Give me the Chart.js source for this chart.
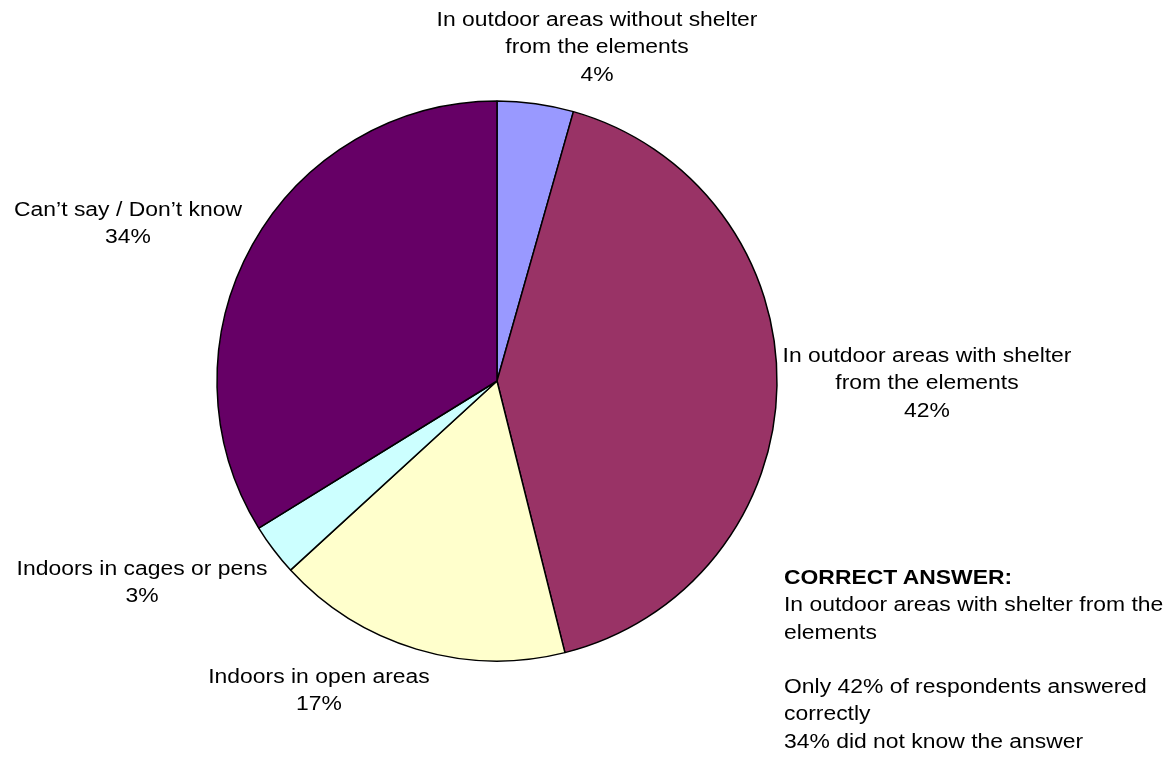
<!DOCTYPE html>
<html>
<head>
<meta charset="utf-8">
<script src="https://cdn.jsdelivr.net/npm/chart.js@4.4.1/dist/chart.umd.min.js"></script>
<style>
  html, body { margin:0; padding:0; background:#fff; }
  #wrap { position:relative; width:1176px; height:762px; }
  #note { position:absolute; left:784px; top:564px; font-family:"Liberation Sans", Arial, sans-serif; font-size:20px; line-height:27.3px; color:#000; white-space:nowrap; transform:scaleX(1.145); transform-origin:left top; }
  #note b { font-weight:bold; }
</style>
</head>
<body>
<div id="wrap">
  <canvas id="pie" width="1176" height="762"></canvas>
  <div id="note">
    <b>CORRECT ANSWER:</b><br>
    In outdoor areas with shelter from the<br>
    elements<br>
    <br>
    Only 42% of respondents answered<br>
    correctly<br>
    34% did not know the answer
  </div>
</div>
<script>
const categories = [
  ['In outdoor areas without shelter', 'from the elements'],
  ['In outdoor areas with shelter', 'from the elements'],
  ['Indoors in open areas'],
  ['Indoors in cages or pens'],
  ['Can\u2019t say / Don\u2019t know'],
];
const shares = [4.4, 41.7, 17.1, 3.0, 33.8];
const pctLabels = ['4%', '42%', '17%', '3%', '34%'];
const colors = ['#9999FF', '#993366', '#FFFFCC', '#CCFFFF', '#660066'];

// label block centres (x, y of first line), placed like the original
const labelPos = [[597, 20], [927, 356], [319, 677], [142, 569], [128, 210]];

const LINE_H = 27.5;
const STRETCH = 1.145; // original text is set a bit wider than Arial

const outsideLabels = {
  id: 'outsideLabels',
  afterDraw(chart){
    const ctx = chart.ctx;
    ctx.save();
    ctx.font = '20px "Liberation Sans", Arial, sans-serif';
    ctx.fillStyle = '#000';
    ctx.textAlign = 'center';
    ctx.textBaseline = 'middle';
    chart.data.labels.forEach((lines, i) => {
      const [x, y] = labelPos[i];
      const all = lines.concat([pctLabels[i]]);
      all.forEach((t, k) => {
        ctx.save();
        ctx.translate(x, y + k * LINE_H);
        ctx.scale(STRETCH, 1);
        ctx.fillText(t, 0, 0);
        ctx.restore();
      });
    });
    ctx.restore();
  }
};

new Chart(document.getElementById('pie'), {
  type: 'pie',
  data: {
    labels: categories,
    datasets: [{
      data: shares,
      backgroundColor: colors,
      borderColor: '#000',
      borderWidth: 1.5,
      hoverOffset: 0,
    }]
  },
  options: {
    responsive: false,
    animation: false,
    radius: 280,
    layout: { padding: { left: 100, right: 282, top: 50, bottom: 50 } },
    plugins: { legend: { display: false }, tooltip: { enabled: false } },
  },
  plugins: [outsideLabels]
});
</script>
</body>
</html>
